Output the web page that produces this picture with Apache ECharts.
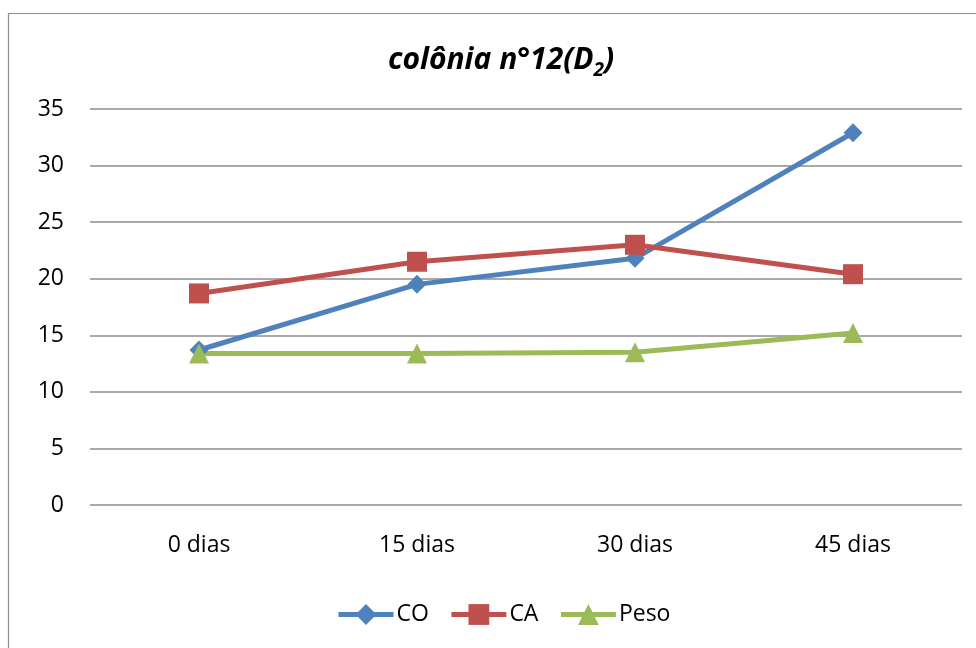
<!DOCTYPE html>
<html>
<head>
<meta charset="utf-8">
<script src="https://cdn.jsdelivr.net/npm/echarts@6/dist/echarts.min.js"></script>
<style>html,body{margin:0;padding:0;background:#fff}#c{width:976px;height:648px}</style>
</head>
<body>
<div id="c"></div>
<script>
const categories = ['0 dias', '15 dias', '30 dias', '45 dias'];
const coValues = [13.7, 19.5, 21.8, 32.9];
const caValues = [18.7, 21.5, 23.0, 20.4];
const pesoValues = [13.4, 13.4, 13.5, 15.2];
const seriesNames = ['CO', 'CA', 'Peso'];
const colors = ['#4F81BD', '#C0504D', '#9BBB59'];
const font = 'Open Sans';

const chart = echarts.init(document.getElementById('c'));
chart.setOption({
  animation: false,
  graphic: [{
    type: 'rect', shape: {x: 8.5, y: 13.5, width: 1000, height: 700},
    style: {fill: 'none', stroke: '#8c8c8c', lineWidth: 1.2}, silent: true, z: -1
  }],
  title: {
    text: '{t|colônia n°12(D}{s|2}{t|)}',
    left: 383, top: 35,
    textStyle: {
      rich: {
        t: {fontFamily: font, fontSize: 30, fontWeight: 'bold', fontStyle: 'italic', color: '#000', lineHeight: 40},
        s: {fontFamily: font, fontSize: 19, fontWeight: 'bold', fontStyle: 'italic', color: '#000', lineHeight: 40, padding: [22, 0, 0, 0]}
      }
    }
  },
  legend: {
    top: 598, left: 331, itemGap: 20, itemWidth: 55, itemHeight: 26,
    textStyle: {fontFamily: font, fontSize: 23, color: '#000', padding: [0, 0, 0, -2]},
    lineStyle: {width: 5},
    data: seriesNames
  },
  grid: {left: 90, right: 14, top: 109, bottom: 143},
  xAxis: {
    type: 'category', data: categories, boundaryGap: true,
    axisLine: {show: false}, axisTick: {show: false},
    axisLabel: {fontFamily: font, fontSize: 23, color: '#000', margin: 29}
  },
  yAxis: {
    type: 'value', min: 0, max: 35, interval: 5,
    axisLine: {show: false}, axisTick: {show: false},
    axisLabel: {fontFamily: font, fontSize: 23, color: '#000', margin: 26},
    splitLine: {lineStyle: {color: '#8c8c8c', width: 1.5}}
  },
  series: [
    {name: seriesNames[0], type: 'line', data: coValues, color: colors[0],
     lineStyle: {width: 5}, symbol: 'diamond', symbolSize: 19},
    {name: seriesNames[1], type: 'line', data: caValues, color: colors[1],
     lineStyle: {width: 5}, symbol: 'rect', symbolSize: 20},
    {name: seriesNames[2], type: 'line', data: pesoValues, color: colors[2],
     lineStyle: {width: 5}, symbol: 'triangle', symbolSize: 20}
  ]
});
</script>
</body>
</html>
